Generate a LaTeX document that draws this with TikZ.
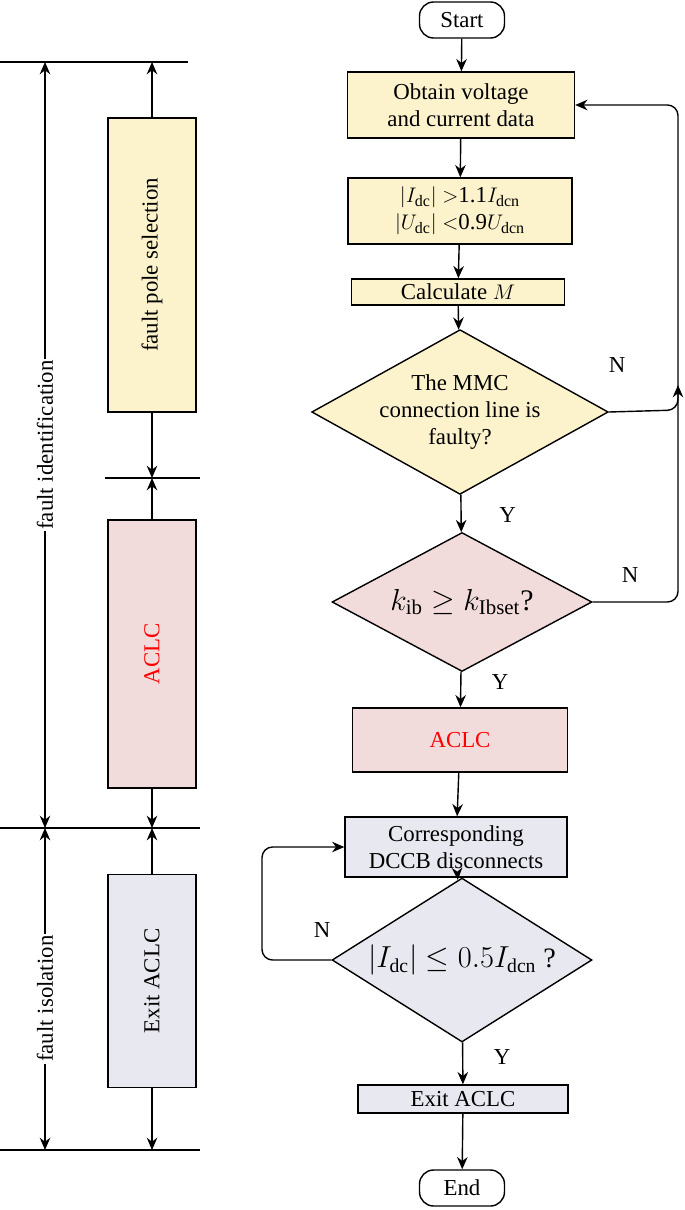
\documentclass[tikz,border=0pt]{standalone}
\usepackage{fontspec}
\setmainfont{Liberation Serif}
\usetikzlibrary{shapes.geometric,arrows.meta}
\definecolor{cyel}{HTML}{FCF2CC}
\definecolor{cpink}{HTML}{F2DCDB}
\definecolor{cgrey}{HTML}{E8E8F0}
\tikzset{
  box/.style={draw, thick, align=center, inner sep=0pt, font=\fontsize{13}{15.5}\selectfont},
  term/.style={box, rounded corners=8pt, fill=white, minimum width=1.7cm, minimum height=0.72cm},
  dec/.style={box, diamond, aspect=1.8},
  side/.style={draw, thick, inner sep=0pt, minimum width=1.76cm, font=\fontsize{13}{15.5}\selectfont},
  line/.style={thick, -{Stealth[length=7pt,width=6pt]}},
  lab/.style={font=\fontsize{13}{15.5}\selectfont}
}
\begin{document}
\begin{tikzpicture}[x=0.02cm, y=-0.02cm]
\useasboundingbox (0,0) rectangle (685,1210);
% right-hand flow chart
\node[term] (start) at (462,20) {Start};
\node[box, fill=cyel, minimum width=4.54cm, minimum height=1.32cm] (obtain) at (461,105) {Obtain voltage\\and current data};
\node[box, fill=cyel, minimum width=4.48cm, minimum height=1.32cm] (crit) at (460,211) {$|I_{\mathrm{dc}}|$ $>$1.1$I_{\mathrm{dcn}}$\\$|U_{\mathrm{dc}}|$ $<$0.9$U_{\mathrm{dcn}}$};
\node[box, fill=cyel, minimum width=4.26cm, minimum height=0.52cm] (calc) at (458,292) {Calculate $M$};
\node[dec, fill=cyel, minimum width=5.52cm, minimum height=2.9cm] (mmc) at (460,412) {The MMC\\connection line is\\faulty?};
\node[dec, fill=cpink, minimum width=5.2cm, minimum height=2.78cm] (kib) at (462,602) {\fontsize{17}{20}\selectfont $k_{\mathrm{ib}}\geq k_{\mathrm{Ibset}}$?};
\node[box, fill=cpink, text=red, minimum width=4.3cm, minimum height=1.28cm] (aclc) at (460,740) {ACLC};
\node[box, fill=cgrey, minimum width=4.44cm, minimum height=1.2cm] (dccb) at (456,847) {Corresponding\\DCCB disconnects};
\node[dec, fill=cgrey, minimum width=5.2cm, minimum height=3.28cm] (idc) at (462,960) {\fontsize{16}{19}\selectfont $\left|I_{\mathrm{dc}}\right|\leq 0.5I_{\mathrm{dcn}}$ ?};
\node[box, fill=cgrey, minimum width=4.2cm, minimum height=0.56cm] (exit) at (463,1099) {Exit ACLC};
\node[term] (end) at (462,1188) {End};

\draw[line] (start) -- (obtain);
\draw[line] (obtain) -- (crit);
\draw[line] (crit) -- (calc);
\draw[line] (calc) -- (mmc);
\draw[line] (mmc) -- node[lab, pos=0.55, right=18pt] {Y} (kib);
\draw[line] (kib) -- node[lab, pos=0.3, right=14pt] {Y} (aclc);
\draw[line] (aclc) -- (dccb);
\draw[line] (dccb) -- (idc);
\draw[line] (idc) -- node[lab, pos=0.35, right=14pt] {Y} (exit);
\draw[line] (exit) -- (end);

\coordinate (nmmc) at (678,410);
\coordinate (nkib) at (678,602);
\coordinate (nidc) at (262,960);
\draw[line, rounded corners=6pt] (mmc.east) -- (nmmc) |- (obtain.east);
\draw[line, rounded corners=6pt] (kib.east) -- (nkib) -- (678,385);
\draw[line, rounded corners=6pt] (idc.west) -- (nidc) |- (dccb.west);
\node[lab] at (617,365) {N};
\node[lab] at (630,575) {N};
\node[lab] at (322,930) {N};

% left-hand stages
\draw[thick] (0,62) -- (188,62);
\draw[thick] (105,478) -- (200,478);
\draw[thick] (0,828) -- (200,828);
\draw[thick] (0,1150) -- (200,1150);
\node[side, fill=cyel, minimum height=5.88cm] (sel) at (152,265) {};
\node[rotate=90, font=\fontsize{13}{15.5}\selectfont] at (sel) {fault pole selection};
\node[side, fill=cpink, minimum height=5.36cm] (saclc) at (152,654) {};
\node[rotate=90, text=red, font=\fontsize{13}{15.5}\selectfont] at (saclc) {ACLC};
\node[side, fill=cgrey, minimum height=4.26cm] (sexit) at (152,981) {};
\node[rotate=90, font=\fontsize{13}{15.5}\selectfont] at (sexit) {Exit ACLC};
\draw[line] (sel.north) -- (152,62);
\draw[line] (sel.south) -- (152,478);
\draw[line] (saclc.north) -- (152,478);
\draw[line] (saclc.south) -- (152,828);
\draw[line] (sexit.north) -- (152,828);
\draw[line] (sexit.south) -- (152,1150);
\draw[thick, {Stealth[length=7pt,width=6pt]}-{Stealth[length=7pt,width=6pt]}] (45,62) -- node[rotate=90, fill=white, inner sep=1pt, lab] {fault identification} (45,828);
\draw[thick, {Stealth[length=7pt,width=6pt]}-{Stealth[length=7pt,width=6pt]}] (45,828) -- node[rotate=90, fill=white, inner sep=1pt, lab, pos=0.53] {fault isolation} (45,1150);
\end{tikzpicture}
\end{document}
